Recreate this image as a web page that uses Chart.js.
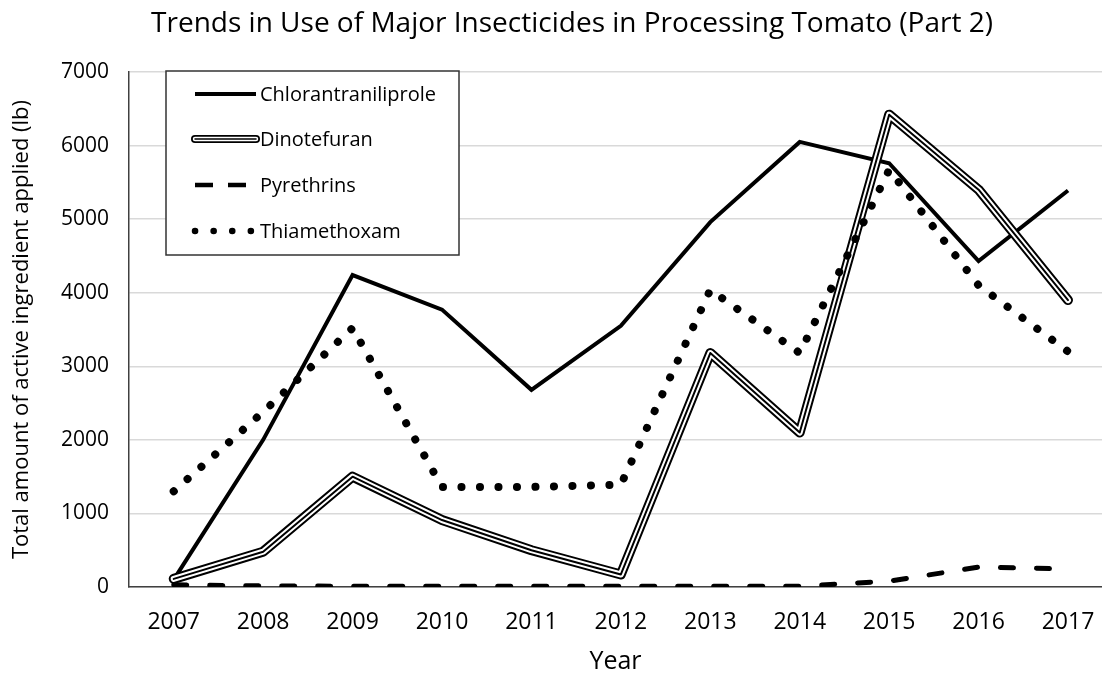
<!DOCTYPE html>
<html>
<head>
<meta charset="utf-8">
<script src="https://cdn.jsdelivr.net/npm/chart.js@4/dist/chart.umd.min.js"></script>
<style>
  html, body { margin: 0; padding: 0; background: #fff; }
  #wrap { width: 1102px; height: 677px; }
</style>
</head>
<body>
<div id="wrap"><canvas id="chart" width="1102" height="677"></canvas></div>
<script>
// values
const years = [2007, 2008, 2009, 2010, 2011, 2012, 2013, 2014, 2015, 2016, 2017];
const chlorantraniliprole = [100, 2000, 4240, 3770, 2680, 3550, 4960, 6050, 5760, 4430, 5390];
const dinotefuran = [110, 480, 1500, 910, 500, 170, 3180, 2100, 6420, 5400, 3900];
const pyrethrins = [30, 15, 10, 10, 10, 10, 10, 10, 80, 270, 245];
const thiamethoxam = [1300, 2380, 3520, 1360, 1360, 1390, 4040, 3180, 5670, 4100, 3200];
const yTicks = [0, 1000, 2000, 3000, 4000, 5000, 6000, 7000];

const FONT = '"Open Sans"';
const TITLE = 'Trends in Use of Major Insecticides in Processing Tomato (Part 2)';
const pts = (arr) => years.map((y, i) => ({ x: y, y: arr[i] }));

// title (sits a bit left of centre in the reference) and the framed legend box
const boxLegend = {
  id: 'boxLegend',
  afterDraw(chart) {
    const ctx = chart.ctx;
    ctx.save();
    ctx.fillStyle = '#000';
    ctx.font = '28px ' + FONT;
    ctx.textAlign = 'center';
    ctx.textBaseline = 'middle';
    ctx.fillText(TITLE, 572, 24);

    const x0 = 166, y0 = 71, w = 293, h = 184;
    ctx.fillStyle = '#fff';
    ctx.fillRect(x0, y0, w, h);
    ctx.strokeStyle = '#333';
    ctx.lineWidth = 1.5;
    ctx.strokeRect(x0, y0, w, h);

    const rows = [
      { label: 'Chlorantraniliprole', y: 94 },
      { label: 'Dinotefuran', y: 139 },
      { label: 'Pyrethrins', y: 185 },
      { label: 'Thiamethoxam', y: 231 }
    ];
    const seg = (y, width, color, dash, cap) => {
      ctx.beginPath();
      ctx.setLineDash(dash || []);
      ctx.lineCap = cap || 'butt';
      ctx.strokeStyle = color;
      ctx.lineWidth = width;
      ctx.moveTo(195, y);
      ctx.lineTo(256, y);
      ctx.stroke();
    };
    seg(rows[0].y, 4, '#000');
    seg(rows[1].y, 8, '#000', [], 'round');
    seg(rows[1].y, 4.5, '#fff', [], 'round');
    seg(rows[1].y, 1.5, '#000', [], 'round');
    seg(rows[2].y, 4.5, '#000', [18, 15]);
    seg(rows[3].y, 6.5, '#000', [0.1, 18.5], 'round');
    ctx.setLineDash([]);

    ctx.fillStyle = '#000';
    ctx.font = '20px ' + FONT;
    ctx.textAlign = 'left';
    ctx.textBaseline = 'middle';
    rows.forEach(r => ctx.fillText(r.label, 260, r.y + 1));
    ctx.restore();
  }
};

new Chart(document.getElementById('chart'), {
  type: 'line',
  data: {
    datasets: [
      {
        label: 'Chlorantraniliprole',
        data: pts(chlorantraniliprole),
        borderColor: '#000',
        borderWidth: 4,
        pointRadius: 0,
        borderJoinStyle: 'miter',
        order: 5
      },
      {
        label: 'Dinotefuran',
        data: pts(dinotefuran),
        borderColor: '#000',
        borderWidth: 10,
        pointRadius: 0,
        borderJoinStyle: 'round',
        borderCapStyle: 'round',
        order: 4.3
      },
      {
        label: 'Dinotefuran (inner)',
        data: pts(dinotefuran),
        borderColor: '#fff',
        borderWidth: 6,
        pointRadius: 0,
        borderJoinStyle: 'round',
        borderCapStyle: 'round',
        order: 4.2
      },
      {
        label: 'Dinotefuran (core)',
        data: pts(dinotefuran),
        borderColor: '#000',
        borderWidth: 2,
        pointRadius: 0,
        borderJoinStyle: 'round',
        borderCapStyle: 'round',
        order: 4.1
      },
      {
        label: 'Pyrethrins',
        data: pts(pyrethrins),
        borderColor: '#000',
        borderWidth: 5,
        borderDash: [13, 23],
        borderCapStyle: 'round',
        pointRadius: 0,
        order: 2
      },
      {
        label: 'Thiamethoxam',
        data: pts(thiamethoxam),
        borderColor: '#000',
        borderWidth: 8,
        borderDash: [0.1, 18.4],
        borderCapStyle: 'round',
        pointRadius: 0,
        order: 1
      }
    ]
  },
  options: {
    responsive: false,
    animation: false,
    layout: { padding: { top: 72, right: 0, bottom: 0, left: 0 } },
    plugins: {
      legend: { display: false },
      tooltip: { enabled: false },
      title: { display: false }
    },
    scales: {
      x: {
        type: 'linear',
        min: 2006.5,
        max: 2017.38,
        afterBuildTicks: (axis) => { axis.ticks = years.map(v => ({ value: v })); },
        afterFit: (axis) => {
          axis.height = 90;
          axis.paddingLeft = 0;
          axis.paddingRight = 0;
        },
        ticks: {
          color: '#000',
          font: { family: FONT, size: 23 },
          padding: 22,
          maxRotation: 0,
          callback: (v) => String(v)
        },
        grid: { display: false, drawTicks: false },
        border: { display: true, color: '#404040', width: 1.5 },
        title: {
          display: true,
          text: 'Year',
          color: '#000',
          font: { family: FONT, size: 25 },
          padding: { top: 0, bottom: 0 }
        }
      },
      y: {
        min: 0,
        max: 7000,
        afterBuildTicks: (axis) => { axis.ticks = yTicks.map(v => ({ value: v })); },
        afterFit: (axis) => { axis.width = 129; },
        ticks: {
          color: '#000',
          font: { family: FONT, size: 21 },
          padding: 20,
          callback: (v) => String(v)
        },
        grid: { color: '#d9d9d9', lineWidth: 1.5, drawTicks: false },
        border: { display: true, color: '#404040', width: 1.5 },
        title: {
          display: true,
          text: 'Total amount of active ingredient applied (lb)',
          color: '#000',
          font: { family: FONT, size: 22 },
          padding: { top: 9, bottom: 0 }
        }
      }
    }
  },
  plugins: [boxLegend]
});
</script>
</body>
</html>
